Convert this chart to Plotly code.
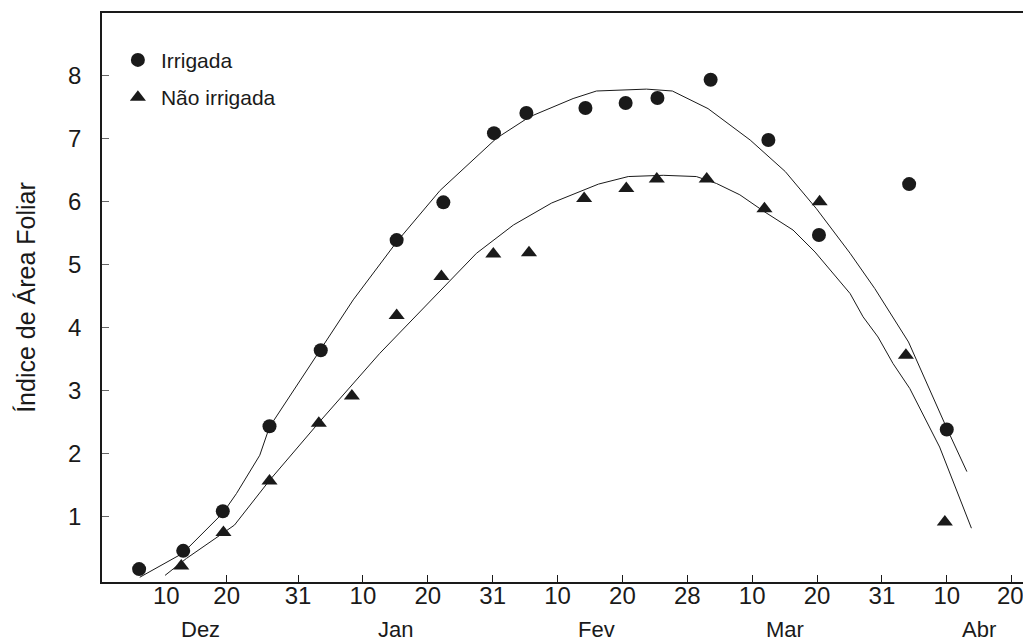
import plotly.graph_objects as go

# Days counted from 1 Dec (axis scale of the original figure)
irr_x = [5.5, 12.3, 18.4, 25.6, 33.5, 45.2, 52.4, 60.2, 65.2, 74.3, 80.5, 85.4, 93.6, 102.5, 110.3, 124.2, 130.0]
irr_y = [0.16, 0.45, 1.08, 2.43, 3.64, 5.39, 5.99, 7.09, 7.41, 7.49, 7.57, 7.65, 7.94, 6.98, 5.47, 6.28, 2.38]

nirr_x = [12.0, 18.5, 25.6, 33.2, 38.3, 45.2, 52.1, 60.1, 65.6, 74.1, 80.6, 85.3, 93.0, 101.9, 110.4, 123.7, 129.7]
nirr_y = [0.21, 0.74, 1.56, 2.48, 2.91, 4.19, 4.81, 5.17, 5.19, 6.05, 6.21, 6.36, 6.36, 5.89, 6.00, 3.56, 0.91]

irr_fit_x = [5.6, 12.2, 18.4, 20.5, 24.1, 25.6, 33.4, 38.5, 45.2, 51.9, 60.6, 65.7, 72.4, 76.0, 83.7, 87.7, 93.2, 99.7, 105.1, 109.9, 115.1, 118.9, 124.1, 130.0, 133.1]
irr_fit_y = [0.03, 0.41, 1.05, 1.36, 1.97, 2.42, 3.64, 4.44, 5.36, 6.18, 7.01, 7.35, 7.64, 7.76, 7.79, 7.76, 7.48, 6.98, 6.48, 5.89, 5.18, 4.62, 3.77, 2.40, 1.71]

nirr_fit_x = [9.5, 12.8, 18.4, 20.2, 25.6, 33.3, 42.6, 49.0, 57.5, 63.2, 69.1, 76.3, 80.9, 86.3, 91.4, 94.5, 98.1, 101.9, 106.3, 109.7, 112.5, 115.1, 117.1, 119.4, 121.7, 124.3, 128.9, 133.8]
nirr_fit_y = [0.06, 0.33, 0.73, 0.86, 1.57, 2.50, 3.59, 4.28, 5.18, 5.63, 5.98, 6.28, 6.40, 6.42, 6.40, 6.29, 6.11, 5.84, 5.55, 5.20, 4.86, 4.54, 4.17, 3.85, 3.43, 3.03, 2.10, 0.81]

tick_pos = [19, 30, 40, 50, 60, 70, 80, 90, 100, 110, 120, 130, 140]
label_pos = [9.7, 19, 30, 40, 50, 60, 70, 80, 90, 100, 110, 120, 130, 139.8]
label_text = ["10", "20", "31", "10", "20", "31", "10", "20", "28", "10", "20", "31", "10", "20"]
month_pos = [15, 45, 76, 105, 135]
month_text = ["Dez", "Jan", "Fev", "Mar", "Abr"]

FONT = "Liberation Sans, Arial, sans-serif"
INK = "#1a1a1a"

fig = go.Figure()

fig.add_trace(go.Scatter(x=irr_fit_x, y=irr_fit_y, mode="lines", xaxis="x2",
                         line=dict(color=INK, width=1), showlegend=False, hoverinfo="skip"))
fig.add_trace(go.Scatter(x=nirr_fit_x, y=nirr_fit_y, mode="lines", xaxis="x2",
                         line=dict(color=INK, width=1), showlegend=False, hoverinfo="skip"))
fig.add_trace(go.Scatter(x=irr_x, y=irr_y, mode="markers", name="Irrigada", legendgroup="a",
                         marker=dict(symbol="circle", size=14, color=INK)))
fig.add_trace(go.Scatter(x=nirr_x, y=nirr_y, mode="markers", name="Não irrigada", legendgroup="b",
                         marker=dict(symbol="triangle-up", size=14, color=INK)))

xr = [-0.22, 141.75]
fig.update_layout(
    width=1023, height=643,
    margin=dict(l=102, r=0, t=13, b=61),
    paper_bgcolor="white", plot_bgcolor="white",
    font=dict(family=FONT, color=INK, size=24),
    showlegend=True,
    legend=dict(x=0.014, y=0.953, xanchor="left", yanchor="top", itemwidth=36,
                bgcolor="rgba(0,0,0,0)", font=dict(size=21, family=FONT, color=INK),
                tracegroupgap=7, traceorder="grouped"),
    xaxis=dict(range=xr, tickmode="array", tickvals=tick_pos, showticklabels=False,
               ticks="inside", ticklen=7, tickcolor=INK, tickwidth=1, automargin=False,
               showline=True, linecolor=INK, linewidth=1.5, mirror=True,
               showgrid=False, zeroline=False),
    xaxis2=dict(range=xr, overlaying="x", side="bottom", tickmode="array",
                tickvals=label_pos, ticktext=label_text, ticks="", automargin=False,
                showline=False, showgrid=False, zeroline=False, ticklabeloverflow="allow",
                ticklabelstandoff=-3,
                tickfont=dict(size=24, family=FONT, color=INK)),
    yaxis=dict(range=[-0.045, 9.0], tickmode="array", tickvals=[1, 2, 3, 4, 5, 6, 7, 8],
               ticks="inside", ticklen=7, tickcolor="#666", tickwidth=1, automargin=False,
               showline=True, linecolor=INK, linewidth=1.5,
               showgrid=False, zeroline=False, ticklabelstandoff=14,
               tickfont=dict(size=24, family=FONT, color=INK),
               title=dict(text="Índice de Área Foliar", font=dict(size=25, family=FONT, color=INK),
                          standoff=25)),
)

for p, t in zip(month_pos, month_text):
    fig.add_annotation(x=p, y=-0.083, xref="x", yref="paper", text=t, showarrow=False,
                       yanchor="middle", xanchor="center",
                       font=dict(size=22, family=FONT, color=INK))

fig.write_html("out.html", config={"displayModeBar": False},
               post_script="document.body.style.margin='0';")
